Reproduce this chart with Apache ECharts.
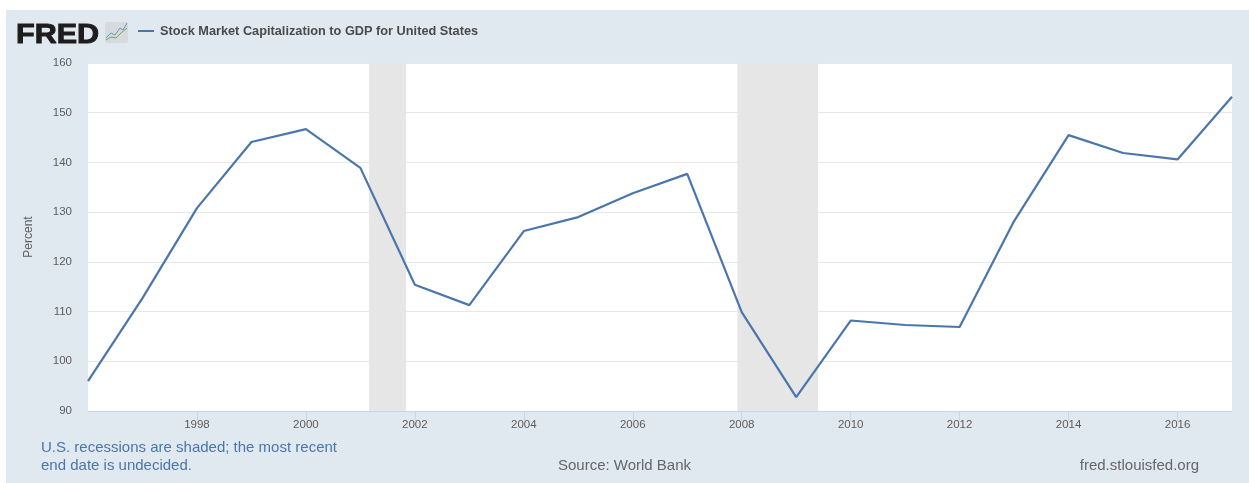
<!DOCTYPE html>
<html>
<head>
<meta charset="utf-8">
<style>html,body{margin:0;padding:0;background:#fff}#c{width:1249px;height:483px}</style>
<script src="https://cdn.jsdelivr.net/npm/echarts@6/dist/echarts.min.js"></script>
</head>
<body>
<div id="c"></div>
<script>
const years = [1996,1997,1998,1999,2000,2001,2002,2003,2004,2005,2006,2007,2008,2009,2010,2011,2012,2013,2014,2015,2016,2017];
const capToGdp = [96,112.7,130.8,144.1,146.7,138.9,115.4,111.3,126.2,129,133.8,137.7,109.9,92.8,108.2,107.3,106.9,128.2,145.5,141.9,140.6,153.2];
const tickYears = [1998,2000,2002,2004,2006,2008,2010,2012,2014,2016];
const recessions = [[2001.16,2001.84],[2007.92,2009.4]];
const seriesName = 'Stock Market Capitalization to GDP for United States';
const font = '"Liberation Sans", Arial, sans-serif';

const chart = echarts.init(document.getElementById('c'), null, {renderer:'canvas'});
chart.setOption({
  animation:false,
  backgroundColor:'#fff',
  grid:{left:88,right:17,top:63,bottom:72,backgroundColor:'#fff',show:true,borderWidth:0},
  xAxis:{
    type:'value',
    min:1996,max:2017,
    axisLine:{show:true,lineStyle:{color:'#c8d4e8',width:1}},
    axisTick:{show:true,length:10,customValues:tickYears,lineStyle:{color:'#c8d4e8',width:1}},
    splitLine:{show:false},
    axisLabel:{show:true,customValues:tickYears,color:'#5c5c5c',fontFamily:font,fontSize:11.5,margin:8,
      formatter:v=>String(v)}
  },
  yAxis:{
    type:'value',min:90,max:160,interval:10,
    name:'Percent',nameLocation:'middle',nameGap:53,nameRotate:90,
    nameTextStyle:{color:'#5c5c5c',fontFamily:font,fontSize:12},
    axisLine:{show:false},axisTick:{show:false},
    axisLabel:{color:'#5c5c5c',fontFamily:font,fontSize:11.5,margin:16,padding:[2,0,0,0],
      formatter:v=>String(v)},
    splitLine:{lineStyle:{color:'#e8e8e8',width:1}}
  },
  series:[
    {type:'line',name:'recessions',silent:true,symbol:'none',data:[],
     markArea:{silent:true,itemStyle:{color:'#e6e6e6'},data:recessions.map(r=>[{xAxis:r[0]},{xAxis:r[1]}])}},
    {type:'line',name:seriesName,symbol:'none',smooth:false,
     lineStyle:{color:'#4a76ab',width:2.2},itemStyle:{color:'#4a76ab'},
     data:years.map((y,i)=>[y,capToGdp[i]]),z:5}
  ],
  graphic:[
    {type:'rect',z:-10,zlevel:-1,shape:{x:6,y:10,width:1243,height:473},style:{fill:'#e1e9f0'}},
    {type:'text',x:16,y:21,scaleX:1.09,style:{text:'FRED',fill:'#1e1c1c',stroke:'#1e1c1c',lineWidth:1,font:'900 28px "Liberation Sans"'}},
    {type:'rect',shape:{x:105,y:22,width:23,height:21,r:2},style:{fill:'#d4dade'}},
    {type:'polyline',shape:{points:[[106,38],[111,33],[115,35],[120,28],[123,30],[127,23]]},style:{stroke:'#6d95c0',fill:null,lineWidth:1}},
    {type:'polyline',shape:{points:[[106,40],[111,37],[116,38],[121,33],[127,28]]},style:{stroke:'#7fa64a',fill:null,lineWidth:1}},
    {type:'line',shape:{x1:138,y1:31,x2:154,y2:31},style:{stroke:'#4a76ab',lineWidth:2}},
    {type:'text',x:160,y:25,style:{text:seriesName,fill:'#4a4a4a',font:'bold 12.75px "Liberation Sans"'}},
    {type:'text',x:41,y:439,style:{text:'U.S. recessions are shaded; the most recent\nend date is undecided.',fill:'#4a76ab',font:'15px "Liberation Sans"',lineHeight:18}},
    {type:'text',x:624.5,y:458,style:{text:'Source: World Bank',align:'center',fill:'#666',font:'15px "Liberation Sans"'}},
    {type:'text',x:1199,y:458,style:{text:'fred.stlouisfed.org',align:'right',fill:'#666',font:'15px "Liberation Sans"'}}
  ]
});
</script>
</body>
</html>
